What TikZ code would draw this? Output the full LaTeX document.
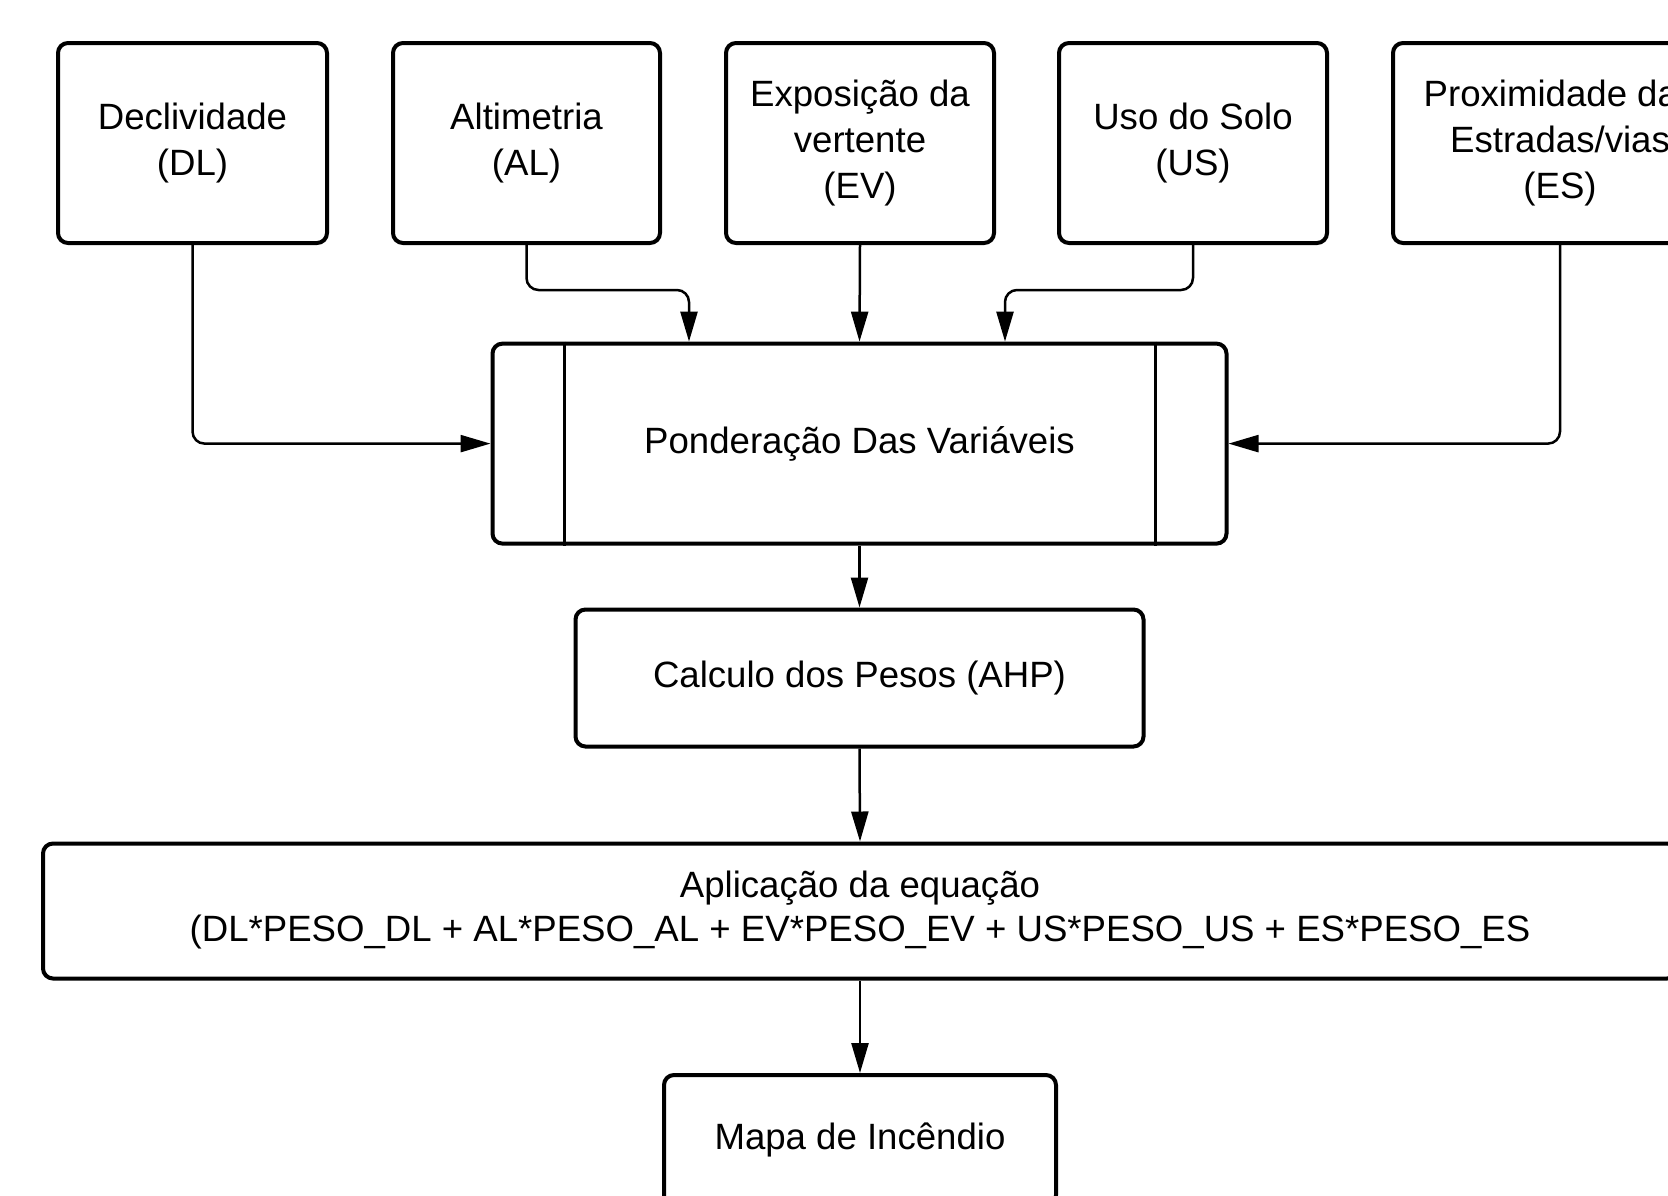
\documentclass[tikz,border=0pt]{standalone}
\usepackage{fontspec}
\setmainfont{Liberation Sans}
\usetikzlibrary{arrows.meta}
\begin{document}
\begin{tikzpicture}[x=1pt,y=-1pt,
  box/.style={draw, line width=4pt, rounded corners=10pt, align=center, inner sep=0pt,
    font=\fontsize{36.6}{45.7}\selectfont},
  conn/.style={line width=2.5pt, rounded corners=12pt, -{Triangle[length=30pt,width=17pt]}}]
\useasboundingbox (0,0) rectangle (1668,1195);
\clip (0,0) rectangle (1668,1195);
\fill[white] (0,0) rectangle (1668,1195);
\node[box, minimum width=269pt, minimum height=200pt] (b1) at (192.5,143) {Declividade\\(DL)};
\node[box, minimum width=267pt, minimum height=200pt] (b2) at (526.5,143) {Altimetria\\(AL)};
\node[box, minimum width=268pt, minimum height=200pt] (b3) at (860,143) {Exposição da\\vertente\\(EV)};
\node[box, minimum width=268pt, minimum height=200pt] (b4) at (1193,143) {Uso do Solo\\(US)};
\node[box, minimum width=334pt, minimum height=200pt] (b5) at (1560,143) {Proximidade das\\Estradas/vias\\(ES)};
\node[box, minimum width=734pt, minimum height=200pt] (pond) at (859.5,443.6) {Ponderação Das Variáveis};
\draw[line width=3pt] ([xshift=73.5pt]pond.north west) -- ([xshift=73.5pt]pond.south west);
\draw[line width=3pt] ([xshift=-73.5pt]pond.north east) -- ([xshift=-73.5pt]pond.south east);
\node[box, minimum width=568pt, minimum height=137pt] (calc) at (859.5,678) {Calculo dos Pesos (AHP)};
\node[box, minimum width=1634pt, minimum height=135pt, font=\fontsize{36.6}{43.6}\selectfont] (apl) at (860,911) {\raisebox{8pt}{\begin{tabular}{@{}c@{}}Aplicação da equação\\(DL*PESO\_DL + AL*PESO\_AL + EV*PESO\_EV + US*PESO\_US + ES*PESO\_ES\end{tabular}}};
\node[box, minimum width=392pt, minimum height=130pt] (mapa) at (860,1140) {Mapa de Incêndio};
\coordinate (alk) at (689,290);
\coordinate (usk) at (1005,290);
\draw[conn] (b1.south) |- (pond.west);
\draw[conn] (b2.south) |- (alk) -- (alk |- pond.north);
\draw[conn] (b3.south) -- (pond.north);
\draw[conn] (b4.south) |- (usk) -- (usk |- pond.north);
\draw[conn] (b5.south) |- (pond.east);
\draw[conn] (pond.south) -- (calc.north);
\draw[conn] (calc.south) -- (apl.north);
\draw[conn] (apl.south) -- (mapa.north);
\end{tikzpicture}
\end{document}
